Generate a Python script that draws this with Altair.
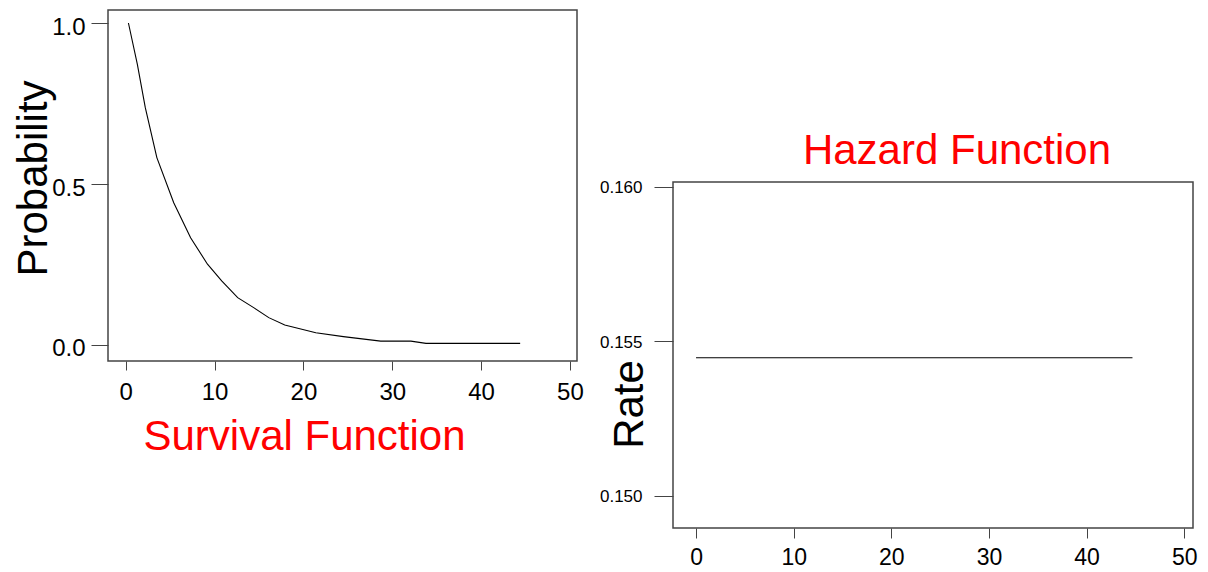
import altair as alt
import pandas as pd

# Survival curve
surv_time = [0.3, 1.3, 2.2, 3.5, 5.4, 7.3, 9.2, 10.8, 12.6, 14.4, 16.1, 17.9, 21.4, 24.5, 28.7, 32.1, 33.8, 44.4]
surv_prob = [1.0, 0.872, 0.737, 0.582, 0.442, 0.333, 0.251, 0.199, 0.147, 0.116, 0.085, 0.062, 0.038, 0.026, 0.012, 0.012, 0.005, 0.005]

# Hazard (constant)
haz_time = [0.0, 44.7]
haz_rate = [0.15447, 0.15447]

x_ticks = [0, 10, 20, 30, 40, 50]
surv_ticks = [0.0, 0.5, 1.0]
haz_ticks = [0.150, 0.155, 0.160]

FONT = "Liberation Sans"

surv_df = pd.DataFrame({"t": surv_time, "S": surv_prob})
haz_df = pd.DataFrame({"t": haz_time, "h": haz_rate})

left = alt.Chart(surv_df).mark_line(color="black", strokeWidth=1.1).encode(
    x=alt.X("t:Q", scale=alt.Scale(domain=[-2.0, 50.8], nice=False, zero=False),
            axis=alt.Axis(values=x_ticks, title=None, grid=False, domain=False,
                          tickSize=9, tickColor="#444", labelFontSize=24,
                          labelPadding=10, labelFont=FONT, labelColor="black",
                          labelFlush=False)),
    y=alt.Y("S:Q", scale=alt.Scale(domain=[-0.0497, 1.0404], nice=False, zero=False),
            axis=alt.Axis(values=surv_ticks, format=".1f", title="Probability",
                          grid=False, domain=False, tickSize=17, tickColor="#444",
                          labelFontSize=24, labelPadding=6, labelFont=FONT,
                          labelColor="black", labelOffset=4, labelFlush=False,
                          titleFont=FONT, titleFontSize=42, titleFontWeight="normal",
                          titleColor="black", titleAngle=270, titleBaseline="middle",
                          titleAlign="center", titleX=-75, titleY=168)),
).properties(
    width=469, height=351,
    title=alt.TitleParams("Survival Function", orient="bottom", anchor="middle",
                          font=FONT, fontSize=42, fontWeight="normal", color="red",
                          dx=-38, offset=13),
)

right_main = alt.Chart(haz_df).mark_line(color="black", strokeWidth=1.1).encode(
    x=alt.X("t:Q", scale=alt.Scale(domain=[-2.36, 50.9], nice=False, zero=False),
            axis=alt.Axis(values=x_ticks, title=None, grid=False, domain=False,
                          tickSize=10, tickColor="#444", labelFontSize=23,
                          labelPadding=8, labelFont=FONT, labelColor="black",
                          labelFlush=False)),
    y=alt.Y("h:Q", scale=alt.Scale(domain=[0.14896, 0.16016], nice=False, zero=False),
            axis=alt.Axis(values=haz_ticks, format=".3f", title="Rate",
                          grid=False, domain=False, tickSize=19, tickColor="#444",
                          labelFontSize=17, labelPadding=12, labelFont=FONT,
                          labelColor="black", labelOffset=1, labelFlush=False,
                          titleFont=FONT, titleFontSize=42, titleFontWeight="normal",
                          titleColor="black", titleAngle=270, titleBaseline="middle",
                          titleAlign="center", titleX=-44, titleY=222)),
).properties(
    width=520, height=346,
    title=alt.TitleParams("Hazard Function", orient="top", anchor="middle",
                          font=FONT, fontSize=42, fontWeight="normal", color="red",
                          dx=24, offset=6),
)

spacer = alt.Chart(pd.DataFrame({"a": [0]})).mark_text(text="", opacity=0).properties(
    width=520, height=118, view=alt.ViewConfig(stroke="transparent")
)

right = alt.vconcat(spacer, right_main, spacing=0)

chart = alt.hconcat(left, right, spacing=14).properties(
    padding={"left": 11, "top": 9, "right": 0, "bottom": 0},
    background="white",
).configure_view(stroke="#444", strokeWidth=1.5)

chart.save("out.html", embed_options={"renderer": "svg", "actions": False})
